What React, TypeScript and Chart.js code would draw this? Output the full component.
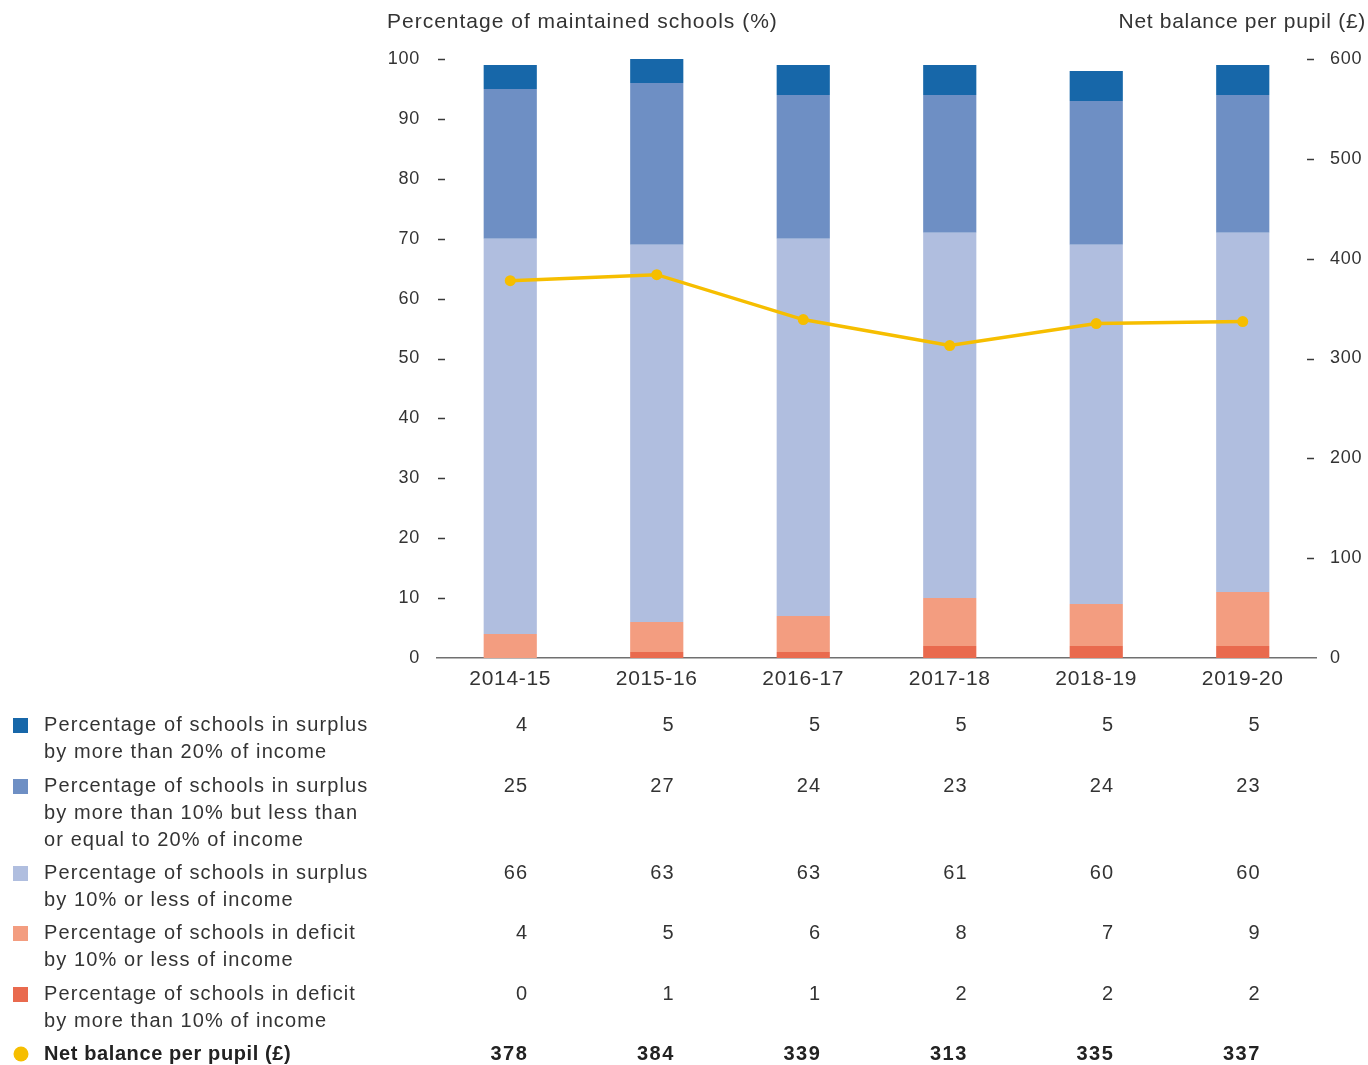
import React, { useEffect, useRef } from "react";
import { Chart, registerables } from "chart.js";

Chart.register(...registerables);

// Financial years shown on the x axis
const years = ["2014-15", "2015-16", "2016-17", "2017-18", "2018-19", "2019-20"];

// Percentage of maintained schools in each balance band
const surplusOver20 = [4, 5, 5, 5, 5, 5];
const surplus10to20 = [25, 27, 24, 23, 24, 23];
const surplusUpTo10 = [66, 63, 63, 61, 60, 60];
const deficitUpTo10 = [4, 5, 6, 8, 7, 9];
const deficitOver10 = [0, 1, 1, 2, 2, 2];

// Net balance per pupil (£)
const netBalance = [378, 384, 339, 313, 335, 337];

const leftTicks = [0, 10, 20, 30, 40, 50, 60, 70, 80, 90, 100];
const rightTicks = [0, 100, 200, 300, 400, 500, 600];

const leftTitle = "Percentage of maintained schools (%)";
const rightTitle = "Net balance per pupil (£)";

const COLORS = {
  surplusOver20: "#1767a9",
  surplus10to20: "#6e8fc4",
  surplusUpTo10: "#b0bedf",
  deficitUpTo10: "#f39d80",
  deficitOver10: "#e96a4e",
  line: "#f6be00",
  text: "#333333",
};

// Table rows: legend text lines, swatch colour and values per year
const tableRows = [
  { lines: ["Percentage of schools in surplus", "by more than 20% of income"], color: COLORS.surplusOver20, values: surplusOver20, y: 725 },
  { lines: ["Percentage of schools in surplus", "by more than 10% but less than", "or equal to 20% of income"], color: COLORS.surplus10to20, values: surplus10to20, y: 786 },
  { lines: ["Percentage of schools in surplus", "by 10% or less of income"], color: COLORS.surplusUpTo10, values: surplusUpTo10, y: 873 },
  { lines: ["Percentage of schools in deficit", "by 10% or less of income"], color: COLORS.deficitUpTo10, values: deficitUpTo10, y: 933 },
  { lines: ["Percentage of schools in deficit", "by more than 10% of income"], color: COLORS.deficitOver10, values: deficitOver10, y: 994 },
];

const FONT = "'Liberation Sans', Arial, sans-serif";

const decorPlugin = {
  id: "decor",
  beforeDraw(chart: any) {
    // slightly open tracking for the axis tick labels
    (chart.ctx as any).letterSpacing = "0.7px";
  },
  afterDraw(chart: any) {
    const ctx = chart.ctx as CanvasRenderingContext2D & { letterSpacing: string };
    const area = chart.chartArea;
    const x = chart.scales.x;
    const y = chart.scales.y;
    const y1 = chart.scales.y1;
    ctx.save();

    // Axis titles
    ctx.fillStyle = COLORS.text;
    ctx.font = `21px ${FONT}`;
    ctx.textBaseline = "middle";
    ctx.letterSpacing = "1px";
    ctx.textAlign = "left";
    ctx.fillText(leftTitle, 387, 22);
    ctx.letterSpacing = "0.7px";
    ctx.textAlign = "right";
    ctx.fillText(rightTitle, 1366, 22);

    // Small tick dashes beside each axis
    ctx.strokeStyle = "#3a3a3a";
    ctx.lineWidth = 1.5;
    leftTicks.forEach((v) => {
      if (v === 0) return;
      const py = Math.round(y.getPixelForValue(v)) + 0.5;
      ctx.beginPath();
      ctx.moveTo(area.left + 1, py);
      ctx.lineTo(area.left + 8, py);
      ctx.stroke();
    });
    rightTicks.forEach((v) => {
      if (v === 0) return;
      const py = Math.round(y1.getPixelForValue(v)) + 0.5;
      ctx.beginPath();
      ctx.moveTo(area.right - 9, py);
      ctx.lineTo(area.right - 2, py);
      ctx.stroke();
    });

    // Data table with legend
    const colRight = (i: number) => x.getPixelForValue(i) + 18;
    tableRows.forEach((row) => {
      ctx.fillStyle = row.color;
      ctx.fillRect(13, row.y - 7, 15, 15);
      ctx.fillStyle = COLORS.text;
      ctx.font = `20px ${FONT}`;
      ctx.letterSpacing = "1.1px";
      ctx.textAlign = "left";
      row.lines.forEach((line, k) => {
        ctx.fillText(line, 44, row.y + k * 27);
      });
      ctx.textAlign = "right";
      row.values.forEach((v, i) => {
        ctx.fillText(String(v), colRight(i), row.y);
      });
    });

    const lastY = 1054;
    ctx.fillStyle = COLORS.line;
    ctx.beginPath();
    ctx.arc(21, lastY, 7.5, 0, Math.PI * 2);
    ctx.fill();
    ctx.fillStyle = "#222222";
    ctx.font = `bold 20px ${FONT}`;
    ctx.letterSpacing = "0.6px";
    ctx.textAlign = "left";
    ctx.fillText("Net balance per pupil (£)", 44, lastY);
    ctx.letterSpacing = "1.5px";
    ctx.textAlign = "right";
    netBalance.forEach((v, i) => {
      ctx.fillText(String(v), colRight(i), lastY);
    });

    ctx.restore();
    ctx.letterSpacing = "0px";
  },
};

export default function App() {
  const canvasRef = useRef<HTMLCanvasElement | null>(null);

  useEffect(() => {
    if (!canvasRef.current) return;
    const barCommon = {
      type: "bar" as const,
      yAxisID: "y",
      stack: "schools",
      order: 1,
      barPercentage: 0.363,
      categoryPercentage: 1,
      borderWidth: 0,
    };
    const chart = new Chart(canvasRef.current, {
      type: "bar",
      data: {
        labels: years,
        datasets: [
          { ...barCommon, label: "Deficit > 10%", data: deficitOver10, backgroundColor: COLORS.deficitOver10 },
          { ...barCommon, label: "Deficit <= 10%", data: deficitUpTo10, backgroundColor: COLORS.deficitUpTo10 },
          { ...barCommon, label: "Surplus <= 10%", data: surplusUpTo10, backgroundColor: COLORS.surplusUpTo10 },
          { ...barCommon, label: "Surplus 10-20%", data: surplus10to20, backgroundColor: COLORS.surplus10to20 },
          { ...barCommon, label: "Surplus > 20%", data: surplusOver20, backgroundColor: COLORS.surplusOver20 },
          {
            type: "line" as const,
            label: "Net balance per pupil (£)",
            data: netBalance,
            yAxisID: "y1",
            order: 0,
            borderColor: COLORS.line,
            backgroundColor: COLORS.line,
            borderWidth: 3.5,
            pointRadius: 5.5,
            pointBorderWidth: 0,
            tension: 0,
          } as any,
        ],
      },
      options: {
        animation: false,
        responsive: false,
        maintainAspectRatio: false,
        layout: { padding: { top: 59, left: 0, right: 0, bottom: 0 } },
        plugins: {
          legend: { display: false },
          tooltip: { enabled: false },
          title: { display: false },
        },
        scales: {
          x: {
            stacked: true,
            grid: { display: false, drawTicks: false },
            border: { display: true, color: "#707070", width: 1.5 },
            ticks: {
              color: COLORS.text,
              font: { family: FONT, size: 21 },
              padding: 9,
              maxRotation: 0,
            },
            afterFit: (scale: any) => {
              scale.height = 407;
            },
          },
          y: {
            stacked: true,
            position: "left",
            min: 0,
            max: 100,
            grid: { display: false, drawTicks: false },
            border: { display: false },
            afterBuildTicks: (scale: any) => {
              scale.ticks = leftTicks.map((v) => ({ value: v }));
            },
            ticks: {
              color: COLORS.text,
              font: { family: FONT, size: 18 },
              padding: 17,
            },
            afterFit: (scale: any) => {
              scale.width = 437;
            },
          },
          y1: {
            position: "right",
            min: 0,
            max: 600,
            grid: { display: false, drawTicks: false },
            border: { display: false },
            afterBuildTicks: (scale: any) => {
              scale.ticks = rightTicks.map((v) => ({ value: v }));
            },
            ticks: {
              color: COLORS.text,
              font: { family: FONT, size: 18 },
              padding: 14,
            },
            afterFit: (scale: any) => {
              scale.width = 52;
            },
          },
        },
      },
      plugins: [decorPlugin],
    });
    return () => chart.destroy();
  }, []);

  return (
    <div style={{ position: "absolute", left: 0, top: 0, width: 1368, height: 1065, background: "#ffffff" }}>
      <canvas ref={canvasRef} width={1368} height={1065} style={{ display: "block", width: 1368, height: 1065 }} />
    </div>
  );
}
